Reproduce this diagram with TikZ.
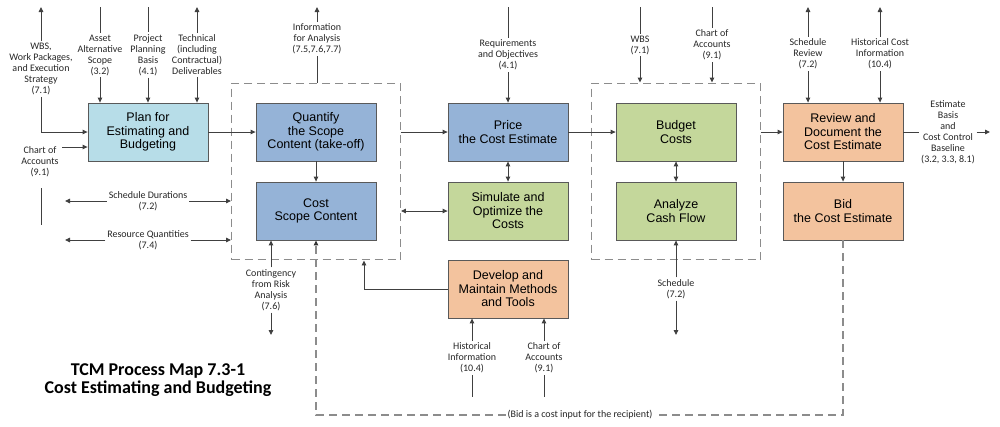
\documentclass[tikz,border=0pt]{standalone}
\usepackage{fontspec}
\setmainfont{Liberation Sans}
\newfontfamily\labelfont{Carlito}
\usetikzlibrary{arrows.meta,fit}

\definecolor{planblue}{HTML}{B7DDE8}
\definecolor{procblue}{HTML}{95B3D7}
\definecolor{procgreen}{HTML}{C4D79B}
\definecolor{procorange}{HTML}{F3C39E}

\begin{document}
\begin{tikzpicture}[x=1pt, y=-1pt, color=black!75, line width=0.9pt,
    >={Triangle[length=5pt,width=4.5pt]},
    proc/.style={draw=black!65, line width=0.8pt, text=black, minimum width=120pt, minimum height=58pt,
      inner xsep=2pt, align=center, font=\fontsize{12.5}{13.5}\selectfont},
    lbl/.style={text=black!85, align=center, inner sep=1.5pt, font=\labelfont\fontsize{10}{11}\selectfont},
    group/.style={draw=black!45, dash pattern=on 8pt off 5pt, line width=1.1pt},
    bidline/.style={draw=black!45, dash pattern=on 8pt off 5pt, line width=1.1pt}]
  \useasboundingbox (0,0) rectangle (1000,426);

  \node [proc, fill=planblue] (plan) at (148,132) {Plan for\\Estimating and\\Budgeting};
  \node [proc, fill=procblue] (quant) at (316,132) {Quantify\\the Scope\\Content (take-off)};
  \node [proc, fill=procblue] (cost) at (316,211) {Cost\\Scope Content};
  \node [proc, fill=procblue] (price) at (508,132) {Price\\the Cost Estimate};
  \node [proc, fill=procgreen] (sim) at (508,211) {Simulate and\\Optimize the\\Costs};
  \node [proc, fill=procgreen] (budget) at (676,132) {Budget\\Costs};
  \node [proc, fill=procgreen] (cash) at (676,211) {Analyze\\Cash Flow};
  \node [proc, fill=procorange] (review) at (843,132) {Review and\\Document the\\Cost Estimate};
  \node [proc, fill=procorange] (bid) at (843,211) {Bid\\the Cost Estimate};
  \node [proc, fill=procorange] (develop) at (508,289) {Develop and\\Maintain Methods\\and Tools};

  \node [group, fit=(quant) (cost), inner xsep=24pt, inner ysep=19.5pt] (grpA) {};
  \node [group, fit=(budget) (cash), inner xsep=24pt, inner ysep=19.5pt] (grpB) {};

  \coordinate (top) at (0,7);
  \coordinate (low) at (0,335);
  \coordinate (bot) at (0,397);
  \coordinate (leftend) at (65,0);
  \coordinate (rightend) at (990,0);
  \coordinate (coain) at (62,147);

  \node [lbl] (wbsA) at (41,69) {WBS,\\Work Packages,\\and Execution\\Strategy\\(7.1)};
  \node [lbl] (asset) at (100,55) {Asset\\Alternative\\Scope\\(3.2)};
  \node [lbl] (ppb) at (148,55) {Project\\Planning\\Basis\\(4.1)};
  \node [lbl] (techdel) at (197,55) {Technical\\(including\\Contractual)\\Deliverables};
  \node [lbl] (coaA) at (40,162) {Chart of\\Accounts\\(9.1)};
  \node [lbl, fill=white] (schdur) at (148,201) {Schedule Durations\\(7.2)};
  \node [lbl, fill=white] (resq) at (148,240) {Resource Quantities\\(7.4)};
  \node [lbl] (info) at (317,39) {Information\\for Analysis\\(7.5,7.6,7.7)};
  \node [lbl] (req) at (508,55) {Requirements\\and Objectives\\(4.1)};
  \node [lbl] (wbsB) at (640,45) {WBS\\(7.1)};
  \node [lbl] (coaB) at (712,45) {Chart of\\Accounts\\(9.1)};
  \node [lbl] (schrev) at (808,54) {Schedule\\Review\\(7.2)};
  \node [lbl] (histcost) at (880,54) {Historical Cost\\Information\\(10.4)};
  \node [lbl] (estout) at (948,132) {Estimate\\Basis\\and\\Cost Control\\Baseline\\(3.2, 3.3, 8.1)};
  \node [lbl] (conting) at (271,290) {Contingency\\from Risk\\Analysis\\(7.6)};
  \node [lbl] (sched) at (676,289) {Schedule\\(7.2)};
  \node [lbl] (hist) at (472,358) {Historical\\Information\\(10.4)};
  \node [lbl] (coaC) at (544,358) {Chart of\\Accounts\\(9.1)};
  \node [lbl, fill=white] (bidnote) at (580,415) {(Bid is a cost input for the recipient)};
  \node [text=black, align=center, font=\labelfont\bfseries\fontsize{18}{18}\selectfont] (title) at (158,380)
    {TCM Process Map 7.3-1\\Cost Estimating and Budgeting};

  \draw [->] (plan) -- (quant);
  \draw [->] (quant) -- (cost);
  \draw [->] (price.west -| grpA.east) -- (price.west);
  \draw [->] (price) -- (budget);
  \draw [->] (review.west -| grpB.east) -- (review.west);
  \draw [<->] (price) -- (sim);
  \draw [<->] (budget) -- (cash);
  \draw [->] (review) -- (bid);
  \draw [<->] (sim.west -| grpA.east) -- (sim.west);
  \draw [->] (develop.west) -| ([xshift=48pt]grpA.south);

  \draw [bidline] (bid) -- (bid |- bidnote) -- (bidnote);
  \draw [bidline, -{Triangle[length=5pt,width=4.5pt,color=black!80]}] (bidnote) -| (cost);

  \draw [->] (wbsA) -- (wbsA |- top);
  \draw [->] (wbsA) |- (plan);
  \draw (wbsA |- 0,188) -- (wbsA |- 0,225);
  \draw (asset |- top) -- (asset);
  \draw [->] (asset) -- (asset |- plan.north);
  \draw (ppb |- top) -- (ppb);
  \draw [->] (ppb) -- (ppb |- plan.north);
  \draw [->] (techdel) -- (techdel |- top);
  \draw [->] (techdel) -- (techdel |- plan.north);
  \draw [->] (coain) -- (coain -| plan.west);
  \draw [->] (schdur) -- (schdur -| leftend);
  \draw [->] (schdur) -- (schdur -| grpA.west);
  \draw [->] (resq) -- (resq -| leftend);
  \draw [->] (resq) -- (resq -| grpA.west);

  \draw [->] (info) -- (info |- top);
  \draw (grpA.north -| info) -- (info);
  \draw (req |- top) -- (req);
  \draw [->] (req) -- (req |- price.north);
  \draw (wbsB |- top) -- (wbsB);
  \draw [->] (wbsB) -- (wbsB |- grpB.north);
  \draw (coaB |- top) -- (coaB);
  \draw [->] (coaB) -- (coaB |- grpB.north);
  \draw [->] (schrev) -- (schrev |- top);
  \draw [->] (schrev) -- (schrev |- review.north);
  \draw [->] (histcost) -- (histcost |- top);
  \draw [->] (histcost) -- (histcost |- review.north);
  \draw (review) -- (estout);
  \draw [->] (estout) -- (estout -| rightend);

  \draw [->] (conting) -- (conting |- cost.south);
  \draw [->] (conting) -- (conting |- low);
  \draw [->] (sched) -- (cash);
  \draw [->] (sched) -- (sched |- low);
  \draw [->] (hist) -- (hist |- develop.south);
  \draw (hist) -- (hist |- bot);
  \draw [->] (coaC) -- (coaC |- develop.south);
  \draw (coaC) -- (coaC |- bot);
\end{tikzpicture}
\end{document}
